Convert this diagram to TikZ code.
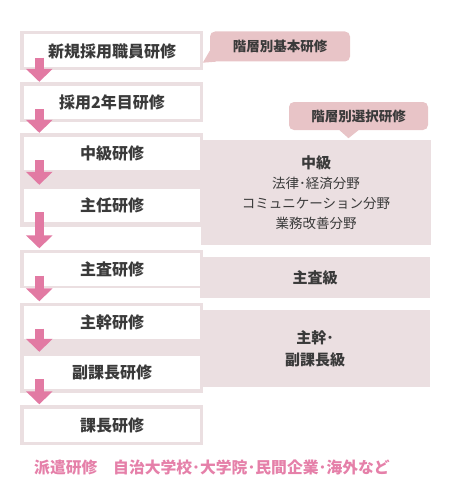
\documentclass[tikz,border=0pt]{standalone}
\usepackage{fontspec}
\setmainfont{Noto Sans CJK JP}
\usetikzlibrary{arrows.meta}
\definecolor{framepink}{HTML}{EBDFE1}
\definecolor{tagpink}{HTML}{E8C4C7}
\definecolor{arrowpink}{HTML}{E27AA3}
\definecolor{textgray}{HTML}{3A3A3A}
\definecolor{notepink}{HTML}{E580A9}

\begin{document}
\begin{tikzpicture}[x=1pt,y=-1pt,
    course/.style={fill=white, minimum width=176pt, minimum height=33pt, inner sep=0pt,
      font=\fontsize{16}{19}\selectfont\bfseries, text=textgray},
    level/.style={fill=framepink, minimum width=230pt, inner sep=0pt, align=center,
      text=textgray, font=\fontsize{13.5}{20}\selectfont},
    tag/.style={fill=tagpink, rounded corners=5pt, inner sep=0pt,
      font=\fontsize{13.5}{16}\selectfont\bfseries, text=textgray},
    flow/.style={arrowpink, line width=9pt, -{Triangle[width=26pt,length=13pt]}}]
  \useasboundingbox (0,0) rectangle (450,495);

  % levels on the right
  \node[level, minimum height=105pt] (lv1) at (316,192.5)
    {{\fontsize{15}{22}\selectfont\bfseries 中級}\\法律･経済分野\\コミュニケーション分野\\業務改善分野};
  \node[level, minimum height=41pt, font=\fontsize{15}{22}\selectfont\bfseries] (lv2) at (315,277.5) {主査級};
  \node[level, minimum height=77pt, font=\fontsize{15}{22}\selectfont\bfseries] (lv3) at (315,348.5) {主幹･\\副課長級};

  % frames behind the courses
  \foreach \top/\bot in {31/70, 82/122, 133/227, 250/288, 303/393, 405/445}
    \fill[framepink] (20,\top) rectangle (203,\bot);

  % courses
  \node[course] (c1) at (112,51)    {新規採用職員研修};
  \node[course] (c2) at (112,102.5) {採用2年目研修};
  \node[course] (c3) at (112,153.5) {中級研修};
  \node[course] (c4) at (112,205.5) {主任研修};
  \node[course] (c5) at (112,269)   {主査研修};
  \node[course] (c6) at (112,322)   {主幹研修};
  \node[course] (c7) at (112,372.5) {副課長研修};
  \node[course] (c8) at (112,425)   {課長研修};

  \foreach \a/\b in {c1/c2, c2/c3, c3/c4, c4/c5, c5/c6, c6/c7, c7/c8}
    \draw[flow] ([shift={(15.5pt,10pt)}]\a.south west) -- ([shift={(15.5pt,4pt)}]\b.north west);

  % callouts
  \node[tag, minimum width=140pt, minimum height=30pt] (tag1) at (280,46.5) {階層別基本研修};
  \fill[tagpink] ([shift={(0pt,11pt)}]tag1.south west) -- ([shift={(-7pt,-1pt)}]tag1.south west)
    -- ([shift={(6pt,0pt)}]tag1.south west) -- cycle;
  \node[tag, minimum width=139pt, minimum height=28pt] (tag2) at (358.5,116) {階層別選択研修};
  \fill[tagpink] ([shift={(-19pt,0pt)}]tag2.south) -- ([shift={(-10pt,-8pt)}]tag2.south)
    -- (tag2.south) -- cycle;

  \node[anchor=west, inner sep=0pt, text=notepink, font=\fontsize{15.8}{18}\selectfont\bfseries] (note) at (34,468)
    {派遣研修　自治大学校･大学院･民間企業･海外など};
\end{tikzpicture}
\end{document}
